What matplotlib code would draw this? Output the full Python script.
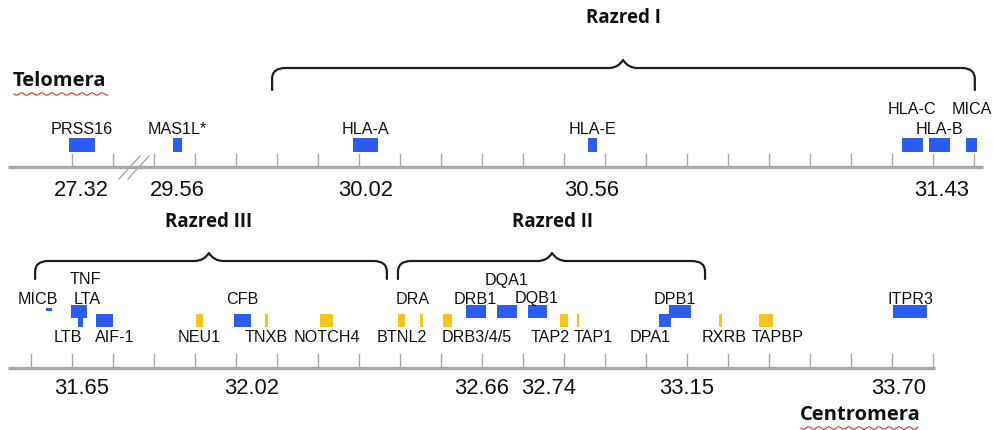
import numpy as np
import matplotlib
matplotlib.use("Agg")
import matplotlib.pyplot as plt
from matplotlib.path import Path
from matplotlib.patches import PathPatch

# ---------------- data (positions in schematic map units: 1 unit = 1 tick) -------------
# Top row (telomeric part)
top_genes = ["PRSS16", "MAS1L*", "HLA-A", "HLA-E", "HLA-C", "HLA-B", "MICA"]
top_start = [0.93, 3.46, 7.85, 13.59, 21.24, 21.90, 22.80]
top_width = [0.63, 0.22, 0.61, 0.22, 0.51, 0.51, 0.27]
top_label_level = [1, 1, 1, 1, 2, 1, 2]
top_tick_labels = ["27.32", "29.56", "30.02", "30.56", "31.43"]
top_tick_label_pos = [1.24, 3.56, 8.15, 13.68, 22.22]

# Bottom row (centromeric part)
bot_genes = ["MICB", "LTA", "TNF", "LTB", "AIF-1", "NEU1", "CFB", "TNXB", "NOTCH4",
             "BTNL2", "DRA", "DRB3/4/5", "DRB1", "DQA1", "DQB1", "TAP2", "TAP1",
             "DPA1", "DPB1", "RXRB", "TAPBP", "ITPR3"]
bot_start = [0.37, 0.98, 1.27, 1.15, 1.59, 4.02, 4.95, 5.71, 7.05,
             8.95, 9.49, 10.05, 10.61, 11.37, 12.12, 12.90, 13.32,
             15.32, 15.56, 16.78, 17.76, 21.02]
bot_width = [0.14, 0.30, 0.10, 0.12, 0.41, 0.18, 0.42, 0.07, 0.32,
             0.17, 0.07, 0.22, 0.49, 0.48, 0.47, 0.20, 0.05,
             0.29, 0.54, 0.07, 0.34, 0.83]
bot_kind = ["dash", "hi", "hi", "stem", "lo", "lo", "lo", "lo", "lo",
            "lo", "lo", "lo", "hi", "hi", "hi", "lo", "lo",
            "lo", "hi", "lo", "lo", "hi"]
bot_colour = ["blue", "blue", "blue", "blue", "blue", "yellow", "blue", "yellow", "yellow",
              "yellow", "yellow", "yellow", "blue", "blue", "blue", "yellow", "yellow",
              "blue", "blue", "yellow", "yellow", "blue"]
bot_label_pos = [0.17, 1.37, 1.32, 0.90, 2.05, 4.10, 5.15, 5.73, 7.22,
                 9.05, 9.32, 10.88, 10.83, 11.59, 12.34, 12.66, 13.71,
                 15.10, 15.71, 16.90, 18.22, 21.46]
bot_label_level = [1, 1, 2, 0, 0, 0, 1, 0, 0,
                   0, 1, 0, 1, 2, 1, 0, 0,
                   0, 1, 0, 0, 1]
bot_tick_labels = ["31.65", "32.02", "32.66", "32.74", "33.15", "33.70"]
bot_tick_label_pos = [1.24, 5.39, 10.98, 12.63, 16.00, 21.15]

# Class regions (braces)
class_names = ["Razred I", "Razred III", "Razred II"]
class_start = [5.88, 0.10, 8.95]
class_end = [23.02, 8.68, 16.44]
class_peak = [14.44, 4.34, 12.71]
class_row = ["top", "bot", "bot"]

# ---------------- figure ----------------
W, H = 993, 430
fig = plt.figure(figsize=(W / 100, H / 100), dpi=100)
ax = fig.add_axes([0, 0, 1, 1])
x0px, ux = 31.0, 41.0
ax.set_xlim(-x0px / ux, (W - x0px) / ux)
ax.set_ylim(H, 0)
ax.axis("off")

px = lambda p: (p - x0px) / ux  # layout helper (pixel -> units)

BLUE = "#2d5cf2"
YELLOW = "#f6c51d"
GREY = "#a9a9a9"
TXT = "#111111"
gene_font = dict(family=["Liberation Sans", "DejaVu Sans"], fontsize=11.6, color=TXT)
num_font = dict(family=["Liberation Sans", "DejaVu Sans"], fontsize=15.8, color=TXT)
bold_font = dict(family=["Open Sans", "DejaVu Sans"], fontsize=13.5, fontweight="bold", color=TXT)
end_font = dict(family=["Open Sans", "DejaVu Sans"], fontsize=14.5, fontweight="bold", color=TXT)

# ---- top row ----
TOP_AXIS = 167
ax.plot([px(8), px(983)], [TOP_AXIS, TOP_AXIS], color=GREY, lw=2.4, solid_capstyle="butt", zorder=1)
for t in range(1, 24):
    ax.plot([t, t], [TOP_AXIS - 13, TOP_AXIS], color=GREY, lw=1.0, zorder=1)
# axis break marks
for dx in (0, 9):
    ax.plot([px(119 + dx), px(140 + dx)], [179, 156], color=GREY, lw=1.0, zorder=2)
ax.bar(top_start, 14, width=top_width, bottom=138, align="edge", color=BLUE, lw=0, zorder=3)
top_lab_y = {1: 130, 2: 109}
for g, s, w, lv in zip(top_genes, top_start, top_width, top_label_level):
    ax.text(s + w / 2, top_lab_y[lv], g, ha="center", va="center", **gene_font)
for lab, pos in zip(top_tick_labels, top_tick_label_pos):
    ax.text(pos, 191, lab, ha="center", va="center", **num_font)

# ---- bottom row ----
BOT_AXIS = 368
ax.plot([px(8), px(935)], [BOT_AXIS, BOT_AXIS], color=GREY, lw=2.4, solid_capstyle="butt", zorder=1)
for t in range(0, 23):
    ax.plot([t, t], [BOT_AXIS - 14, BOT_AXIS], color=GREY, lw=1.0, zorder=1)
kind_box = {"hi": (305, 13), "lo": (314, 13), "stem": (317, 10), "dash": (308, 3)}
for s, w, k, c in zip(bot_start, bot_width, bot_kind, bot_colour):
    top, h = kind_box[k]
    ax.bar(s, h, width=w, bottom=top, align="edge",
           color=BLUE if c == "blue" else YELLOW, lw=0, zorder=3)
bot_lab_y = {0: 337, 1: 299, 2: 280}
for g, lp, lv in zip(bot_genes, bot_label_pos, bot_label_level):
    ax.text(lp, bot_lab_y[lv], g, ha="center", va="center", **gene_font)
for lab, pos in zip(bot_tick_labels, bot_tick_label_pos):
    ax.text(pos, 388, lab, ha="center", va="center", **num_font)

# ---- braces ----
def brace(xa, xb, xm, y_top, y_end, peak_h=8, rx=0.32, ry=11, pw=0.35):
    verts = [(xa, y_end), (xa, y_top + ry), (xa, y_top), (xa + rx, y_top),
             (xm - pw, y_top), (xm - pw * 0.35, y_top), (xm, y_top - peak_h),
             (xm + pw * 0.35, y_top), (xm + pw, y_top),
             (xb - rx, y_top), (xb, y_top), (xb, y_top + ry), (xb, y_end)]
    codes = [Path.MOVETO, Path.LINETO, Path.CURVE3, Path.CURVE3,
             Path.LINETO, Path.CURVE3, Path.CURVE3, Path.CURVE3, Path.CURVE3,
             Path.LINETO, Path.CURVE3, Path.CURVE3, Path.LINETO]
    ax.add_patch(PathPatch(Path(verts, codes), fill=False, lw=1.6, ec="#1e1e1e",
                           capstyle="round", joinstyle="round", zorder=4))

row_geom = {"top": dict(y_top=68, y_end=90, label_y=18),
            "bot": dict(y_top=261, y_end=279, label_y=222)}
for name, a, b, m, r in zip(class_names, class_start, class_end, class_peak, class_row):
    g = row_geom[r]
    brace(a, b, m, g["y_top"], g["y_end"])
    ax.text(m, g["label_y"], name, ha="center", va="center", **bold_font)

# ---- end labels ----
ax.text(px(13), 81, "Telomera", ha="left", va="center", **end_font)
ax.text(px(860), 415, "Centromera", ha="center", va="center", **end_font)

def squiggle(xa_px, xb_px, y):
    xs = np.linspace(xa_px, xb_px, 200)
    ys = y + 1.2 * np.sin((xs - xa_px) / 1.6)
    ax.plot(px(xs), ys, color="#e03030", lw=0.8, zorder=5)

squiggle(14, 108, 94)
squiggle(801, 918, 428)

fig.savefig("out.png", dpi=100)
